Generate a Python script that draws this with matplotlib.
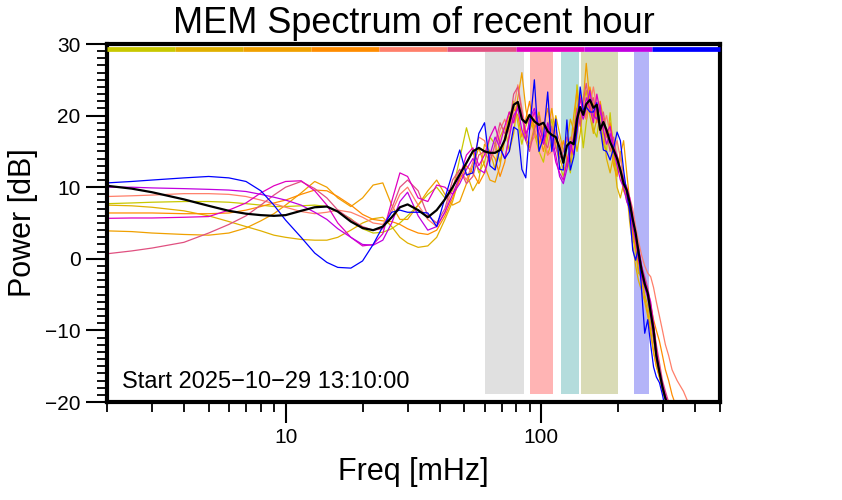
import numpy as np
import matplotlib
matplotlib.use("Agg")
import matplotlib.pyplot as plt
from matplotlib.ticker import LogLocator, NullFormatter, MultipleLocator

plt.rcParams['font.family'] = ['Liberation Sans', 'DejaVu Sans']

# frequency grid [mHz]
freq = [2, 2.5, 3, 4, 5, 6, 7, 8, 9, 10, 11.5, 13, 14.5, 16, 18, 20, 22, 24, 26, 28, 30, 33,
        36, 39, 42, 45, 48, 51, 54, 57, 60, 63, 66, 69, 72, 75, 78, 81, 84, 87, 90, 94, 98,
        102, 106, 110, 114, 118, 122, 126, 130, 134, 138, 142, 146, 150, 155, 160, 165, 170,
        175, 180, 186, 192, 198, 204, 210, 216,
        222, 228, 234, 240, 247, 254, 261, 268, 275, 282, 290, 298, 306, 315, 325, 340, 360, 380, 400]

# hourly spectra [dB], oldest -> newest
p_yellow = [7.7, 7.8, 7.9, 8.0, 8.0, 7.9, 7.7, 7.5, 7.3, 7.3, 7.4, 7.5, 7.3, 6.6, 5.6, 4.2, 3.6, 3.7, 4.2, 5.0, 6.0, 7.5,
            9.0, 10.0, 8.5, 9.5, 14.0, 18.3, 15.0, 12.0, 13.5, 17.0, 16.0, 13.5, 16.5, 19.5, 22.0, 19.0, 16.0, 18.5, 20.0, 17.5, 15.0,
            13.5, 17.0, 19.5, 16.0, 13.0, 11.5, 14.0, 12.0, 16.5, 24.3, 20.0, 15.5, 19.0, 22.5, 18.0, 17.0, 20.5,
            16.0, 15.0, 20.4, 14.5, 12.0, 15.0, 11.0, 8.0,
            7.0, 3.0, 1.0, -2.0, -2.5, -5.0, -6.5, -9.0, -11.5, -14.0, -16.5, -18.5, -19.8, -21, -22, -23, -24, -25, -26]
p_gold = [7.5, 7.4, 7.2, 6.7, 6.0, 5.2, 4.5, 3.9, 3.3, 3.0, 2.7, 2.6, 2.6, 3.0, 4.0, 5.0, 5.6, 5.8, 4.5, 3.0, 2.2, 1.6,
          1.8, 3.0, 5.5, 8.0, 11.5, 12.0, 9.5, 11.0, 16.0, 15.0, 12.5, 17.0, 18.5, 15.0, 17.5, 22.0, 20.5, 17.0, 15.5, 18.5, 20.5,
          17.0, 14.5, 16.5, 20.0, 17.5, 15.0, 16.5, 19.5, 18.0, 15.0, 17.5, 21.5, 23.5, 20.0, 17.5, 19.5, 21.0,
          18.0, 14.0, 12.0, 14.5, 10.0, 8.5, 10.5, 9.5,
          5.0, 2.0, -1.0, -3.0, -4.5, -6.0, -8.0, -10.5, -13.0, -15.0, -16.5, -18.0, -19.3, -20.5, -22, -23, -24, -25, -26]
p_orange = [3.9, 3.8, 3.6, 3.4, 3.3, 3.6, 4.3, 5.3, 6.3, 7.5, 9.2, 10.8, 10.0, 8.5, 7.3, 8.5, 10.3, 10.6, 7.5, 5.5, 5.5, 7.5,
            9.5, 11.0, 9.0, 7.5, 8.0, 10.5, 13.0, 15.5, 13.0, 11.0, 10.7, 13.0, 17.0, 20.5, 19.0, 22.5, 26.0, 21.0, 18.0, 19.5, 17.5,
            15.0, 18.0, 21.0, 17.0, 14.0, 12.5, 13.0, 15.0, 20.0, 23.5, 19.0, 22.0, 27.3, 22.0, 19.5, 21.0, 18.5,
            16.0, 18.0, 17.0, 13.0, 11.5, 14.5, 16.5, 12.0,
            8.0, 4.0, 2.0, -1.5, -3.0, -5.5, -7.5, -10.0, -13.0, -15.0, -16.5, -18.0, -19.5, -21, -22, -23, -24, -25, -26]
p_darkorange = [6.4, 6.4, 6.4, 6.3, 6.3, 6.4, 6.8, 7.3, 7.8, 8.2, 9.0, 9.6, 9.5, 8.7, 7.5, 6.2, 5.5, 5.3, 5.2, 4.8, 4.2, 3.6,
                3.4, 4.0, 6.0, 8.5, 11.0, 13.0, 12.0, 10.5, 12.0, 15.0, 14.0, 11.5, 13.5, 17.5, 21.0, 20.0, 17.0, 19.5, 22.0, 18.0, 16.0,
                18.5, 21.0, 18.0, 15.5, 14.5, 16.5, 14.0, 13.5, 17.5, 21.0, 23.0, 20.5, 19.5, 24.0, 21.5, 19.0, 22.0,
                19.5, 17.0, 19.0, 16.0, 13.5, 12.0, 9.5, 8.5,
                6.5, 3.5, 1.5, -0.5, -2.0, -3.5, -5.0, -6.5, -8.5, -10.0, -11.5, -13.5, -15.5, -17.0, -19.0, -21.0, -23, -24, -25]
p_salmon = [8.7, 8.8, 8.9, 9.1, 9.1, 9.0, 8.7, 8.2, 7.7, 7.2, 6.6, 6.3, 6.5, 6.8, 6.5, 5.8, 5.0, 4.8, 6.5, 9.0, 10.0, 7.5,
            5.5, 4.5, 6.5, 10.0, 12.5, 11.0, 13.5, 17.0, 16.5, 14.0, 15.0, 18.0, 19.5, 17.5, 21.0, 24.3, 21.0, 18.0, 16.0, 17.0, 19.5,
            17.0, 14.5, 15.0, 18.0, 16.5, 14.0, 15.5, 17.0, 15.0, 17.0, 20.5, 22.0, 19.5, 21.5, 24.0, 21.0, 17.5,
            18.5, 20.0, 17.5, 15.0, 16.5, 14.0, 11.0, 10.0,
            8.5, 7.0, 4.5, 2.5, 0.5, -1.0, -2.0, -2.5, -4.0, -6.0, -8.0, -10.0, -12.0, -13.5, -15.5, -17.0, -18.5, -20.5, -22.0]
p_pink = [0.7, 1.1, 1.5, 2.3, 3.6, 4.8, 6.0, 7.5, 8.9, 10.0, 10.8, 9.8, 8.5, 6.8, 5.5, 4.5, 4.0, 4.2, 7.0, 10.0, 11.0, 9.5,
          6.0, 5.0, 7.0, 11.0, 12.5, 10.5, 11.5, 14.5, 15.0, 13.5, 16.0, 19.0, 17.5, 18.5, 23.0, 24.0, 20.5, 16.5, 15.0, 18.0, 20.0,
          16.5, 15.5, 18.5, 15.5, 14.0, 15.0, 17.0, 15.5, 16.5, 21.0, 18.5, 22.0, 24.5, 21.0, 22.5, 20.0, 18.0,
          20.5, 17.5, 15.0, 17.0, 14.0, 12.0, 11.5, 9.0,
          8.0, 5.5, 3.0, 1.5, -1.0, -2.5, -4.0, -6.5, -9.5, -12.0, -14.5, -17.0, -18.5, -20.0, -21.5, -23, -24, -25, -26]
p_magenta = [5.65, 5.7, 5.7, 5.8, 5.9, 6.8, 7.8, 9.2, 10.2, 10.8, 10.9, 9.5, 7.5, 5.0, 3.0, 1.8, 2.0, 3.5, 8.0, 12.0, 11.5, 8.5,
             8.0, 10.3, 10.0, 9.0, 11.5, 14.5, 15.5, 13.0, 14.5, 17.0, 18.5, 16.0, 18.5, 20.5, 19.0, 21.5, 20.0, 17.5, 18.5, 20.5, 17.5,
             16.0, 18.5, 16.5, 13.5, 12.0, 11.0, 13.5, 16.0, 14.5, 18.0, 22.5, 20.0, 22.5, 21.0, 19.0, 23.0, 20.5,
             19.0, 17.5, 18.5, 15.5, 14.5, 12.5, 11.0, 10.0,
             8.5, 6.0, 3.5, 1.5, -1.0, -3.0, -4.5, -6.0, -9.0, -12.5, -15.5, -17.5, -19.0, -20.5, -22, -23, -24, -25, -26]
p_purple = [10.0, 10.0, 9.9, 9.8, 9.7, 9.6, 9.4, 9.0, 8.6, 8.2, 7.5, 6.5, 5.5, 4.2, 3.0, 2.0, 1.9, 2.6, 5.0, 8.0, 9.3, 6.0,
            4.0, 4.5, 6.5, 9.0, 10.5, 12.5, 14.0, 12.5, 12.0, 14.5, 17.0, 15.5, 14.0, 17.0, 20.0, 21.0, 18.0, 16.5, 19.5, 21.0, 18.5,
            16.5, 19.0, 17.0, 14.5, 11.5, 10.5, 12.5, 15.0, 17.0, 20.0, 21.0, 19.5, 21.0, 23.5, 20.0, 19.5, 21.5,
            18.0, 16.0, 17.5, 15.0, 13.0, 11.0, 10.0, 8.0,
            7.0, 4.5, 2.5, 0.0, -2.5, -4.0, -5.5, -8.0, -11.0, -14.0, -16.0, -18.0, -19.5, -21.0, -22, -23, -24, -25, -26]
p_blue = [10.6, 10.8, 11.0, 11.3, 11.5, 11.3, 10.8, 9.5, 7.5, 5.4, 3.0, 0.8, -0.5, -1.2, -1.3, -0.3, 2.0, 4.5, 6.5, 6.8, 6.5, 6.5,
          6.4, 4.5, 8.5, 12.0, 15.2, 11.7, 12.0, 17.5, 19.0, 13.0, 12.4, 15.5, 14.0, 15.0, 18.4, 18.0, 12.5, 11.3, 18.0, 25.0, 15.0,
          17.0, 23.3, 15.0, 19.5, 12.5, 12.4, 19.4, 12.4, 14.2, 18.0, 24.0, 20.8, 21.2, 20.5, 20.5, 21.8, 18.4,
          15.2, 15.0, 13.8, 15.5, 17.7, 16.5, 12.4, 9.2,
          6.4, 1.2, -0.2, 1.6, -4.4, -10.4, -8.5, -12.0, -15.1, -16.5, -17.3, -19.0, -21, -22, -23, -24, -25, -26, -27]
p_mean = [10.2, 9.8, 9.3, 8.3, 7.4, 6.7, 6.3, 6.1, 6.0, 6.1, 6.7, 7.2, 7.3, 6.6, 5.2, 4.3, 4.0, 4.5, 5.8, 7.2, 7.6, 6.8,
          5.8, 6.8, 8.3, 10.0, 11.8, 13.4, 15.0, 15.5, 15.0, 14.8, 14.8, 15.2, 16.6, 19.0, 21.5, 21.9, 19.5, 19.0, 20.1, 19.2, 18.7,
          19.0, 17.8, 17.3, 17.0, 15.5, 13.4, 15.8, 16.3, 16.0, 19.5, 21.2, 20.1, 21.6, 22.2, 21.1, 21.5, 18.0,
          19.1, 18.0, 16.3, 15.2, 14.0, 12.4, 10.5, 9.6,
          7.8, 5.5, 3.6, 1.0, -1.6, -3.5, -4.8, -7.5, -9.9, -13.5, -15.8, -17.9, -19.5, -21, -22, -23, -24, -25, -26]

series = [p_yellow, p_gold, p_orange, p_darkorange, p_salmon, p_pink, p_magenta, p_purple, p_blue]
colors = ['#c8c800', '#e0b000', '#f0a000', '#ff8c00', '#ff7f6a', '#e05080', '#e000c0', '#c000e0', '#0000ff']

# frequency bands [mHz]
band_edges = [(60, 86), (90, 111), (120, 141), (143, 200), (231, 263)]
band_colors = ['#e0e0e0', '#ffb4b4', '#b4dcdc', '#d9dbb6', '#b4b4f8']

fig = plt.figure(figsize=(8.42, 5), dpi=100)
ax = fig.add_axes([0.127, 0.196, 0.728, 0.716])

for (f0, f1), c in zip(band_edges, band_colors):
    ax.axvspan(f0, f1, ymin=0.022, ymax=0.978, color=c, lw=0, zorder=0)

for p, c in zip(series, colors):
    ax.plot(freq, p, color=c, lw=0.9, zorder=2)
ax.plot(freq, p_mean, color='black', lw=1.6, zorder=3)

# colour key along the top
n = len(colors)
for i, c in enumerate(colors):
    ax.plot([i / n, (i + 1) / n], [0.986, 0.986], transform=ax.transAxes, color=c,
            lw=3.4, solid_capstyle='butt', zorder=4, clip_on=False)

ax.set_xscale('log')
ax.set_xlim(2, 500)
ax.set_ylim(-20, 30)
ax.set_xticks([10, 100], labels=['10', '100'])
ax.xaxis.set_minor_locator(LogLocator(base=10, subs=range(2, 10)))
ax.xaxis.set_minor_formatter(NullFormatter())
ax.set_yticks([-20, -10, 0, 10, 20, 30])
ax.yaxis.set_minor_locator(MultipleLocator(1))

ax.tick_params(which='major', length=15, width=1.5, labelsize=15, direction='out', pad=4)
ax.tick_params(which='minor', length=7, width=1.3, direction='out')
for s in ax.spines.values():
    s.set_linewidth(3)

ax.set_xlabel('Freq [mHz]', fontsize=22, labelpad=7)
ax.set_ylabel('Power [dB]', fontsize=22, labelpad=5)
ax.set_title('MEM Spectrum of recent hour', fontsize=26, pad=8)
ax.text(0.025, 0.04, 'Start 2025\u221210\u221229 13:10:00', transform=ax.transAxes,
        fontsize=17, va='baseline', ha='left')

fig.savefig('out.png', dpi=100)
